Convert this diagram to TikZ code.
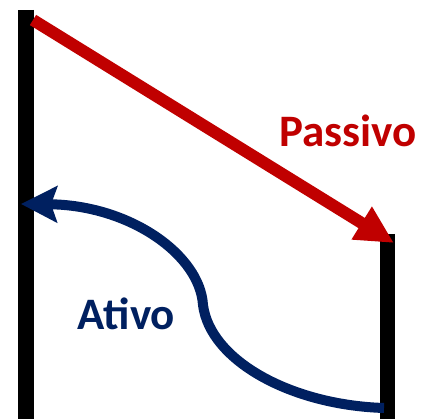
\documentclass[tikz,border=0pt]{standalone}
\usepackage{fontspec}
\newfontfamily\labelfont{Carlito}
\usepackage{xcolor}
\usepackage{tikz}
\usetikzlibrary{arrows.meta}
\definecolor{passred}{HTML}{C00000}
\definecolor{ativoblue}{HTML}{002060}

\begin{document}
\begin{tikzpicture}[x=1pt,y=-1pt,
  bar/.style={line width=16pt},
  label/.style={font=\labelfont\bfseries\fontsize{45}{45}\selectfont,inner sep=0pt}]
  \useasboundingbox (0,0) rectangle (423,419);
  % walls
  \coordinate (lefttop) at (26,10); \coordinate (leftbot) at (26,419);
  \coordinate (righttop) at (387.5,234); \coordinate (rightbot) at (387.5,419);
  \draw[bar] (lefttop) -- (leftbot);
  \draw[bar,line width=15pt] (righttop) -- (rightbot);
  % passive transport
  \coordinate (passstart) at (33,20); \coordinate (passend) at (394,243);
  \draw[passred,line width=12pt,-{Triangle[length=38pt,width=36pt]}] (passstart) -- (passend);
  \node[label,text=passred] (passivo) at (348,131) {Passivo};
  % active transport
  \coordinate (ativostart) at (384,408); \coordinate (ativomid) at (203,305); \coordinate (ativoend) at (21,204);
  \draw[ativoblue,line width=10pt,-{Stealth[length=36pt,width=36pt,inset=6pt]}]
    (ativostart) .. controls (290,405) and (210,360) .. (ativomid)
    .. controls (200,255) and (130,205) .. (ativoend);
  \node[label,text=ativoblue] (ativo) at (126.5,314) {Ativo};
\end{tikzpicture}
\end{document}
